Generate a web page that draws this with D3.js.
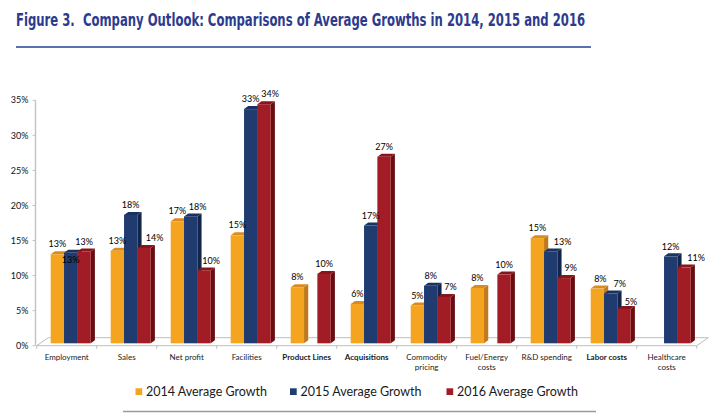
<!DOCTYPE html>
<html>
<head>
<meta charset="utf-8">
<script src="https://cdn.jsdelivr.net/npm/d3@7"></script>
<style>
  html, body { margin: 0; padding: 0; background: #fff; }
  svg { display: block; }
  .title { white-space: pre; }
</style>
</head>
<body>
<svg id="chart" width="720" height="420"></svg>
<script>
// ---------- data ----------
const title = "Figure 3.  Company Outlook: Comparisons of Average Growths in 2014, 2015 and 2016";
const categories = ["Employment", "Sales", "Net profit", "Facilities", "Product Lines", "Acquisitions",
  "Commodity\npricing", "Fuel/Energy\ncosts", "R&D spending", "Labor costs", "Healthcare\ncosts"];
const seriesNames = ["2014 Average Growth", "2015 Average Growth", "2016 Average Growth"];
const values2014 = [12.7, 13.2, 17.4, 15.4, 8.0, 5.6, 5.4, 7.9, 15.0, 7.8, null];
const values2015 = [12.9, 18.3, 18.1, 33.4, null, 16.8, 8.2, null, 13.1, 7.1, 12.4];
const values2016 = [13.1, 13.6, 10.4, 34.1, 9.9, 26.6, 6.6, 9.8, 9.3, 4.9, 10.8];
const yTicks = [0, 5, 10, 15, 20, 25, 30, 35];

// ---------- style ----------
const W = 720, H = 420;
const font = "Lato, 'Open Sans', 'Liberation Sans', sans-serif";
const front = ["#F5A420", "#1F3B6F", "#A11C24"];
const side  = ["#BF7A1C", "#12264B", "#680E12"];
const top_  = ["#D78C22", "#1A3260", "#8A141B"];
const boldCats = new Set(["Product Lines", "Acquisitions", "Labor costs"]);
const labelNudge = {
  "0|1": {dx: 0, below: true},
  "1|2": {dx: 10.5},
  "2|1": {dx: 7}, "2|2": {dx: 7},
  "3|2": {dx: 6},
  "6|2": {dx: 6.5},
  "8|1": {dx: 12}, "8|2": {dx: 6.7},
  "9|0": {dx: 3}, "9|1": {dx: 9}, "9|2": {dx: 7, dy: 2.5},
  "10|2": {dx: 12}
};

const svg = d3.select("#chart");
svg.append("rect").attr("width", W).attr("height", H).attr("fill", "#fff");

// ---------- title (condensed by horizontal scaling) ----------
const tt = svg.append("text")
  .attr("class", "title")
  .attr("x", 0).attr("y", 0)
  .attr("font-family", "'DejaVu Sans Condensed', 'Liberation Sans', sans-serif")
  .attr("font-weight", "bold").attr("font-size", 17.5)
  .attr("fill", "#2C3B8D")
  .text(title);
const natural = tt.node().getComputedTextLength() || 570;
tt.attr("transform", `translate(16,26) scale(${570 / natural},1)`);
svg.append("line").attr("x1", 16).attr("x2", 591).attr("y1", 47).attr("y2", 47)
  .attr("stroke", "#5D6FB3").attr("stroke-width", 1.8);

// ---------- scales ----------
const x = d3.scaleBand().domain(d3.range(categories.length)).range([36.7, 696.7]).padding(0);
const xi = d3.scaleBand().domain(d3.range(seriesNames.length)).range([14, 54]).padding(0);
const y = d3.scaleLinear().domain([0, 35]).range([345.7, 100.3]);
const barShift = -2.4;           // bars sit slightly back on the 3D floor
const yb = v => y(v) + barShift;
const dX = 4.2, dY = -3;          // bar depth
const fX = 11.6, fY = -8;         // floor depth

// ---------- floor ----------
const x0 = x.range()[0], x1 = x.range()[1], y0 = y(0);
svg.append("path")
  .attr("d", `M${x0},${y0} L${x1},${y0} L${x1 + fX},${y0 + fY} L${x0 + fX},${y0 + fY} Z`)
  .attr("fill", "#fff").attr("stroke", "#BDBDBD").attr("stroke-width", 1);

// category ticks
svg.append("g").selectAll("line").data(d3.range(categories.length + 1)).join("line")
  .attr("x1", i => x0 + i * x.bandwidth()).attr("x2", i => x0 + i * x.bandwidth())
  .attr("y1", y0).attr("y2", y0 + 3)
  .attr("stroke", "#BDBDBD");

// ---------- y axis ----------
const axX = 35.5;
svg.append("line").attr("x1", axX).attr("x2", axX).attr("y1", y(35)).attr("y2", y(0))
  .attr("stroke", "#C4C4C4").attr("stroke-width", 1.5);
const yg = svg.append("g");
yg.selectAll("line").data(yTicks).join("line")
  .attr("x1", axX - 3).attr("x2", axX).attr("y1", d => y(d)).attr("y2", d => y(d))
  .attr("stroke", "#C4C4C4");
yg.selectAll("text").data(yTicks).join("text")
  .attr("x", 28.5).attr("y", d => y(d)).attr("dy", "0.35em")
  .attr("text-anchor", "end").attr("font-family", font).attr("font-size", 9)
  .attr("fill", "#111").text(d => d + "%");

// ---------- bars ----------
const allSeries = [values2014, values2015, values2016];
const bars = [];
categories.forEach((c, ci) => {
  allSeries.forEach((vals, si) => {
    if (vals[ci] == null) return;
    bars.push({ci, si, v: vals[ci]});
  });
});
const bg = svg.append("g");
bars.forEach(b => {
  const bx0 = x(b.ci) + xi(b.si), bx1 = bx0 + xi.bandwidth();
  const yt = yb(b.v), ybot = yb(0);
  const g = bg.append("g");
  g.append("path") // side
    .attr("d", `M${bx1},${yt} L${bx1 + dX},${yt + dY} L${bx1 + dX},${ybot + dY} L${bx1},${ybot} Z`)
    .attr("fill", side[b.si]);
  g.append("path") // top
    .attr("d", `M${bx0},${yt} L${bx1},${yt} L${bx1 + dX},${yt + dY} L${bx0 + dX},${yt + dY} Z`)
    .attr("fill", top_[b.si]);
  g.append("rect") // front
    .attr("x", bx0).attr("y", yt).attr("width", bx1 - bx0).attr("height", ybot - yt)
    .attr("fill", front[b.si]);
});

// ---------- data labels ----------
svg.append("g").selectAll("text").data(bars).join("text")
  .attr("x", b => {
    const n = labelNudge[b.ci + "|" + b.si] || {};
    return x(b.ci) + xi(b.si) + xi.bandwidth() / 2 + (n.dx || 0);
  })
  .attr("y", b => {
    const n = labelNudge[b.ci + "|" + b.si] || {};
    return n.below ? yb(b.v) + 7 : yb(b.v) - 10 + (n.dy || 0);
  })
  .attr("dy", "0.35em")
  .attr("text-anchor", "middle").attr("font-family", font).attr("font-size", 9)
  .attr("fill", "#000")
  .text(b => d3.format(".0f")(b.v) + "%");

// ---------- category labels ----------
const cg = svg.append("g");
categories.forEach((c, ci) => {
  const lines = c.split("\n");
  const t = cg.append("text")
    .attr("x", x(ci) + x.bandwidth() / 2).attr("y", 357)
    .attr("text-anchor", "middle").attr("font-family", font).attr("font-size", 8)
    .attr("font-weight", boldCats.has(c) ? "bold" : "normal")
    .attr("fill", "#1A1A1A");
  lines.forEach((ln, li) => {
    t.append("tspan").attr("x", x(ci) + x.bandwidth() / 2)
      .attr("dy", li === 0 ? "0.35em" : "1.3em").text(ln);
  });
});

// ---------- legend ----------
const legendX = [135.5, 290, 446.5];
const lg = svg.append("g");
seriesNames.forEach((s, i) => {
  lg.append("rect").attr("x", legendX[i]).attr("y", 388.3).attr("width", 6.7).attr("height", 6.7)
    .attr("fill", front[i]);
  lg.append("text").attr("x", legendX[i] + 10.5).attr("y", 395.5)
    .attr("font-family", font).attr("font-size", 12.5).attr("fill", "#1A1A1A").text(s);
});
svg.append("line").attr("x1", 123).attr("x2", 596).attr("y1", 411.5).attr("y2", 411.5)
  .attr("stroke", "#9A9A9A").attr("stroke-width", 1.5);
</script>
</body>
</html>
